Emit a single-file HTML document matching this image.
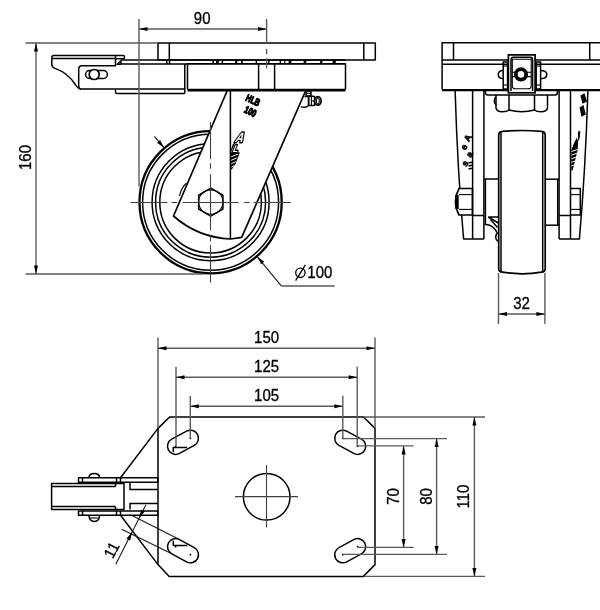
<!DOCTYPE html>
<html><head><meta charset="utf-8"><style>
html,body{margin:0;padding:0;background:#fff;}
svg{display:block;}
svg{filter:grayscale(1);}
text{font-family:"Liberation Sans",sans-serif;fill:#000;stroke:#000;stroke-width:0.3;}
.o{fill:none;stroke:#000;stroke-width:1.5;stroke-linejoin:round;}
.ow{fill:#fff;stroke:#000;stroke-width:1.7;}
.fw{fill:#fff;stroke:#000;stroke-width:1.7;stroke-linejoin:round;}
.t{fill:none;stroke:#000;stroke-width:2.3;}
.tt{fill:none;stroke:#000;stroke-width:2.8;}
.n{fill:none;stroke:#000;stroke-width:1.1;}
.d{fill:none;stroke:#5a5a5a;stroke-width:1.4;}
.c{fill:none;stroke:#404040;stroke-width:1.1;}
.dk{fill:none;stroke:#1a1a1a;stroke-width:1.1;}
.ar{fill:#000;stroke:none;}
.sym{fill:none;stroke:#000;stroke-width:1.3;}
.lg{fill:#fff;stroke:#000;stroke-width:1.6;stroke-linejoin:round;}
.lgw{fill:none;stroke:#fff;stroke-width:0.9;}
.lg2{fill:none;stroke:#000;stroke-width:3.2;stroke-linejoin:round;}
.fb{fill:#000;stroke:none;}
.w{fill:none;stroke:#fff;stroke-width:1;}
.w2{fill:none;stroke:#fff;stroke-width:1.3;stroke-linejoin:round;}
</style></head><body>
<svg width="600" height="610" viewBox="0 0 600 610">
<circle class="t" cx="210.6" cy="202.2" r="71.1"/>
<circle class="o" cx="210.6" cy="202.2" r="68"/>
<circle class="o" cx="210.6" cy="202.2" r="58.5"/>
<circle class="o" cx="210.6" cy="202.2" r="55"/>
<circle class="o" cx="210.6" cy="202.2" r="50.8"/>
<path class="fw" d="M227.5,90 L173.5,216 A92.02,92.02 0 0 0 230.5,239 L241.7,237.3 L306,90 Z"/>
<line class="o" x1="230.4" y1="90" x2="230.4" y2="239"/>
<path class="n" d="M186.5,183 Q181,188 179.5,196"/>
<polygon class="o" points="210.8,188.1 222.92,195.1 222.92,209.1 210.8,216.1 198.68,209.1 198.68,195.1"/>
<circle class="n" cx="210.8" cy="202.1" r="12.2"/>
<line class="o" x1="121" y1="59.9" x2="345.5" y2="59.9"/>
<line class="o" x1="121" y1="64" x2="187.5" y2="64"/>
<line class="o" x1="187.5" y1="63.7" x2="345.5" y2="63.7"/>
<line class="o" x1="121" y1="60.1" x2="121" y2="64"/>
<rect class="o" x="158" y="43" width="217.3" height="16.9"/>
<line class="o" x1="169.3" y1="43" x2="169.3" y2="60.1"/>
<line class="o" x1="363.8" y1="43" x2="363.8" y2="60.1"/>
<line class="o" x1="166.8" y1="60.1" x2="166.8" y2="64"/>
<line class="o" x1="169.5" y1="60.1" x2="169.5" y2="64"/>
<line class="o" x1="213.2" y1="60.1" x2="213.2" y2="63.5"/>
<line class="o" x1="216.8" y1="60.1" x2="216.8" y2="63.5"/>
<polygon class="fb" points="217.5,60 219.2,60 218.5,63.6 216.8,63.6"/>
<polygon class="fb" points="222.0,60 223.5,60 222.8,63.6 221.3,63.6"/>
<polygon class="fb" points="235.5,60 237.7,60 237.0,63.6 234.8,63.6"/>
<polygon class="fb" points="241.5,60 243.2,60 242.5,63.6 240.8,63.6"/>
<polygon class="fb" points="256.0,60 257.5,60 256.8,63.6 255.3,63.6"/>
<polygon class="fb" points="268.5,60 269.9,60 269.2,63.6 267.8,63.6"/>
<polygon class="fb" points="280.0,60 281.4,60 280.7,63.6 279.3,63.6"/>
<polygon class="fb" points="284.5,60 285.7,60 285.0,63.6 283.8,63.6"/>
<polygon class="fb" points="289.0,60 291.7,60 291.0,63.6 288.3,63.6"/>
<polygon class="fb" points="304.0,60 306.7,60 306.0,63.6 303.3,63.6"/>
<polygon class="fb" points="320.5,60 322.7,60 322.0,63.6 319.8,63.6"/>
<polygon class="fb" points="333.0,60 336.2,60 335.5,63.6 332.3,63.6"/>
<path class="o" d="M187.5,89.6 L187.5,63.7 L345.5,63.7 L345.5,89.6"/>
<line class="tt" x1="187.5" y1="90.2" x2="345.5" y2="90.2"/>
<line class="o" x1="258.6" y1="63.5" x2="258.6" y2="89.6"/>
<line class="o" x1="274.6" y1="63.5" x2="274.6" y2="89.6"/>
<line class="o" x1="184.8" y1="64" x2="184.8" y2="93.6"/>
<path class="o" d="M115.5,89.2 L115.5,92 Q115.5,93.6 117.5,93.6 L184.8,93.6"/>
<path class="o" d="M123,55.6 L53.5,55.6 Q51.8,55.6 51.8,57.5 L51.8,64.5 Q51.8,67.3 55,68.4 C 64,71.6 71,77.5 75.6,85 Q77.4,88.3 80.5,89.1 L184.8,89.1"/>
<line class="o" x1="51.8" y1="58.4" x2="115.5" y2="58.4"/>
<path class="o" d="M115.5,55.6 L115.5,65.7 L82,65.7 Q78.7,65.7 78.7,69 L78.7,86 Q78.7,88.6 80.5,89.1"/>
<path class="o" d="M115.5,58.7 L123,58.7 Q124.6,58.7 124.6,57.2 Q124.6,55.6 123,55.6"/>
<path class="o" d="M120.6,61 L117.3,64.2 L121,64.2"/>
<path class="o" d="M89.6,78.5 L103.4,78.5 A4,4 0 0 0 103.4,70.5 L89.6,70.5 A4,4 0 0 0 89.6,78.5 Z"/>
<circle class="ow" cx="94.2" cy="74.5" r="5"/>
<rect class="o" x="306.2" y="91" width="4.8" height="5"/>
<line class="n" x1="306.2" y1="93.3" x2="311" y2="93.3"/>
<path class="o" d="M304.5,96.5 L308.6,96.2 L308.6,105.4 Q306,108.2 300.8,106.6"/>
<ellipse class="ow" cx="317.8" cy="100.9" rx="3.3" ry="4.3"/>
<rect class="o" x="308.6" y="96.2" width="6" height="9.4" rx="0.8"/>
<line class="n" x1="311.4" y1="96.8" x2="311.4" y2="105"/>
<path class="n" d="M311.4,100.9 L314.6,100.9"/>
<ellipse class="n" cx="317.9" cy="100.9" rx="1.4" ry="3.2"/>
<g style="stroke:#000;stroke-width:1.2;stroke-linejoin:round" font-weight="bold" font-size="10" text-anchor="middle"><text style="stroke-width:1.2;stroke-linejoin:round" transform="translate(251.6,103.4) rotate(25) scale(0.7 1)">HLB</text><text style="stroke-width:1.2;stroke-linejoin:round" transform="translate(249,114.6) rotate(25) scale(0.72 1)">100</text></g>
<polygon class="fb" points="236.8,139 232.4,145 230.6,151 230.6,153 233.2,147.5"/>
<text style="fill:#fff;stroke:#000;stroke-width:3;paint-order:stroke;stroke-linejoin:round" font-weight="bold" font-size="13.5" transform="translate(234.4,142.3) skewX(-24) scale(0.8 1)">A</text>
<text style="fill:#fff;stroke:#000;stroke-width:3;paint-order:stroke;stroke-linejoin:round" font-weight="bold" font-size="10" transform="translate(232.2,151.6) skewX(-22) scale(0.8 1)">L</text>
<polygon class="fb" points="230.6,152.6 239.8,152.2 238.9,155 235.6,163.7 232.4,168.5 230.6,170"/>
<line class="w" x1="231.2" y1="156.8" x2="238" y2="154.2"/>
<line class="w" x1="231.2" y1="160.3" x2="236.9" y2="157.8"/>
<line class="w" x1="231.2" y1="163.8" x2="235.7" y2="161.6"/>
<line class="w" x1="231.4" y1="167.2" x2="234.2" y2="165.6"/>
<line class="c" x1="130.4" y1="202.5" x2="167.6" y2="202.5"/>
<line class="c" x1="171.6" y1="202.5" x2="177.1" y2="202.5"/>
<line class="c" x1="182.6" y1="202.5" x2="238.6" y2="202.5"/>
<line class="c" x1="244.1" y1="202.5" x2="249.6" y2="202.5"/>
<line class="c" x1="253.6" y1="202.5" x2="291" y2="202.5"/>
<line class="c" x1="210.5" y1="122" x2="210.5" y2="159.2"/>
<line class="c" x1="210.5" y1="163.2" x2="210.5" y2="168.7"/>
<line class="c" x1="210.5" y1="174.2" x2="210.5" y2="230.2"/>
<line class="c" x1="210.5" y1="235.7" x2="210.5" y2="241.2"/>
<line class="c" x1="210.5" y1="245.2" x2="210.5" y2="282.6"/>
<line class="d" x1="266.6" y1="18.9" x2="266.6" y2="43.5"/>
<line class="d" x1="266.6" y1="48.9" x2="266.6" y2="54.3"/>
<line class="d" x1="266.6" y1="58.3" x2="266.6" y2="68.6"/>
<line class="d" x1="25.5" y1="43" x2="158" y2="43"/>
<line class="d" x1="25.5" y1="274" x2="203" y2="274"/>
<line class="d" x1="36" y1="43" x2="36" y2="274"/>
<polygon class="ar" points="36,43 38,51.5 34,51.5"/>
<polygon class="ar" points="36,274 34,265.5 38,265.5"/>
<text transform="translate(31.4 157.5) rotate(-90) scale(1.0 1.05)" font-size="15" text-anchor="middle">160</text>
<line class="d" x1="139" y1="19" x2="139" y2="186.5"/>
<line class="d" x1="139" y1="29.05" x2="266.6" y2="29.05"/>
<polygon class="ar" points="139,29.05 147.5,27.05 147.5,31.05"/>
<polygon class="ar" points="266.6,29.05 258.1,31.05 258.1,27.05"/>
<text transform="translate(202.2 24.2) scale(1.0 1.05)" font-size="15" text-anchor="middle">90</text>
<line class="dk" x1="257.14" y1="256.61" x2="281.5" y2="286.2"/>
<line class="d" x1="281.5" y1="286" x2="334.7" y2="286"/>
<polygon class="ar" points="257.14,256.61 264.18,261.77 261.15,264.37"/>
<line class="dk" x1="154.31" y1="136.39" x2="164.06" y2="147.79"/>
<polygon class="ar" points="164.06,147.79 157.02,142.63 160.05,140.03"/>
<circle class="sym" cx="300.4" cy="272.8" r="4.7"/>
<line class="sym" x1="295.6" y1="280.6" x2="305.4" y2="264.9"/>
<text transform="translate(307.3 277.8) scale(1.0 1.05)" font-size="15" text-anchor="start">100</text>
<rect class="o" x="442.1" y="42.7" width="160.9" height="17.2"/>
<line class="o" x1="453.5" y1="42.7" x2="453.5" y2="59.9"/>
<line class="o" x1="589.7" y1="42.7" x2="589.7" y2="59.9"/>
<line class="o" x1="442.1" y1="64.2" x2="603" y2="64.2"/>
<line class="o" x1="442.1" y1="59.9" x2="442.1" y2="89.6"/>
<line class="t" x1="442.1" y1="90.1" x2="603" y2="90.1"/>
<path class="o" d="M455.1,90 Q457.5,170 463.6,238.9 L483.9,238.9"/>
<line class="o" x1="472.6" y1="90" x2="472.6" y2="238.9"/>
<line class="o" x1="483.9" y1="90" x2="483.9" y2="238.9"/>
<path class="o" d="M587.9,90 Q585.5,170 579.4,238.9 L559.1,238.9"/>
<line class="o" x1="570.5" y1="90" x2="570.5" y2="238.9"/>
<line class="o" x1="559.1" y1="90" x2="559.1" y2="238.9"/>
<line class="o" x1="472.6" y1="215.5" x2="483.9" y2="215.5"/>
<line class="o" x1="559.1" y1="215.5" x2="570.5" y2="215.5"/>
<path class="o" d="M483.9,179 L498.6,179"/>
<path class="o" d="M559.1,179.2 L544.5,179.2"/>
<path class="o" d="M559.1,225.2 L544.5,225.2"/>
<path class="ow" d="M498.7,135.5 Q498.7,131.6 502.5,131.4 Q522,129.6 541.5,131.4 Q545.2,131.6 545.2,135.5 L545.2,268.5 Q545.2,272 541.5,272.2 Q522,275.4 502.5,272.2 Q498.7,272 498.7,268.5 Z"/>
<line class="o" x1="501" y1="132.2" x2="501" y2="271.8"/>
<line class="o" x1="542.7" y1="132.2" x2="542.7" y2="271.8"/>
<line class="o" x1="485.4" y1="179" x2="485.4" y2="224.3"/>
<line class="o" x1="557.7" y1="179.2" x2="557.7" y2="225.2"/>
<path class="o" d="M485.5,90.5 L485.5,93 Q485.5,95 488,95 L555,95 Q557.4,95 557.4,92.5 L557.4,90.5"/>
<path class="o" d="M496,95 L496,108 Q497,111.8 502,111.8 Q507,111.8 509,110 Q521.7,113.6 534.5,110 Q536.5,111.8 541,111.8 Q546.5,111.8 547.5,108 L547.5,95"/>
<line class="o" x1="509" y1="95" x2="509" y2="110"/>
<line class="o" x1="534.5" y1="95" x2="534.5" y2="110"/>
<path class="o" d="M496,96.8 Q492.6,100.8 496,105"/>
<rect class="ow" x="508.4" y="54.9" width="26.7" height="37.9"/>
<path class="o" d="M511,91 L511,60 Q511,57.3 513.5,57.3 L530,57.3 Q532.6,57.3 532.6,60 L532.6,91"/>
<path class="n" d="M512.3,59.3 L531.2,59.3 L531.2,86 Q531.2,88.8 528,88.8 L515.5,88.8 Q512.3,88.8 512.3,86 Z"/>
<circle class="o" cx="521" cy="74.4" r="6.3"/>
<circle cx="521" cy="74.4" r="4.6" fill="none" stroke="#000" stroke-width="2.6"/>
<path class="n" d="M512.3,72.3 L515,72.3 M512.3,76.6 L515,76.6 M527,72.3 L531.2,72.3 M527,76.6 L531.2,76.6"/>
<rect class="o" x="503.2" y="61.9" width="4.4" height="27.1"/>
<rect class="o" x="536.2" y="61.9" width="4.4" height="27.1"/>
<line class="n" x1="503.2" y1="66" x2="507.6" y2="66"/>
<line class="n" x1="503.2" y1="85" x2="507.6" y2="85"/>
<line class="n" x1="536.2" y1="66" x2="540.6" y2="66"/>
<line class="n" x1="536.2" y1="85" x2="540.6" y2="85"/>
<path class="o" d="M503.2,70.6 Q498.3,70.6 498.3,74.6 Q498.3,78.7 503.2,78.7"/>
<path class="o" d="M540.6,70.6 Q546.8,70.6 546.8,74.6 Q546.8,78.7 540.6,78.7"/>
<path class="ow" d="M459,188.5 L472.4,188.5 L472.4,215 L459,215 Q455.5,208 455.5,201.7 Q455.5,195 459,188.5 Z"/>
<line class="n" x1="459" y1="194.6" x2="472.4" y2="194.6"/>
<line class="n" x1="459" y1="209.4" x2="472.4" y2="209.4"/>
<rect class="fb" x="455.3" y="195" width="3.4" height="14"/>
<path class="o" d="M570.5,188.5 L580.3,188.5 L580.3,215 L570.5,215"/>
<line class="n" x1="570.5" y1="194.6" x2="580.3" y2="194.6"/>
<line class="n" x1="570.5" y1="209.4" x2="580.3" y2="209.4"/>
<path class="o" d="M488.2,217 L498.4,217 M488.2,217 L498.4,223 M490.5,219.5 L497.5,227.5"/>
<path class="o" d="M484.6,224.3 Q494,224.5 497.8,234 M497.8,232.5 Q493.4,237.5 498,241.5"/>
<g font-weight="bold" font-size="9" text-anchor="middle" style="stroke:#000;stroke-width:0.6"><text style="stroke-width:0.6" transform="translate(470.6,139.5) rotate(-62)">A</text><text style="stroke-width:0.6" transform="translate(466.6,148.6) rotate(-62)">e</text><text style="stroke-width:0.6" transform="translate(472.2,155.8) rotate(-62)">a</text><text style="stroke-width:0.6" transform="translate(467.6,164.8) rotate(-62)">s</text></g>
<line class="o" x1="468.5" y1="163" x2="472" y2="162.2"/>
<line class="o" x1="468.5" y1="166" x2="472" y2="165.2"/>
<line class="o" x1="468.5" y1="169" x2="472" y2="168.2"/>
<polygon class="fb" points="580.5,95.5 584.5,93.2 587,101.5 582.5,103.8"/>
<polygon class="fb" points="579.5,107.5 583.5,105 585.8,114.5 581.5,116.8"/>
<polygon class="fb" points="578.6,130.8 580.3,131.4 579.6,138.5 578.2,141 577.6,150 575,161 572.6,170.5 571.3,170.5 571.3,150 574.2,142.5 576.6,138.2"/>
<line class="w" x1="571.5" y1="151.5" x2="577.5" y2="149.5"/>
<line class="w" x1="571.5" y1="155.1" x2="577.5" y2="153.1"/>
<line class="w" x1="571.5" y1="158.7" x2="577.5" y2="156.7"/>
<line class="w" x1="571.5" y1="162.3" x2="577.5" y2="160.3"/>
<line class="w" x1="571.5" y1="165.9" x2="577.5" y2="163.9"/>
<line class="w" x1="577.4" y1="134" x2="577.6" y2="139.6"/>
<line class="d" x1="498.5" y1="273" x2="498.5" y2="324"/>
<line class="d" x1="544.9" y1="273" x2="544.9" y2="324"/>
<line class="d" x1="498.5" y1="314" x2="544.9" y2="314"/>
<polygon class="ar" points="498.5,314 507,312 507,316"/>
<polygon class="ar" points="544.9,314 536.4,316 536.4,312"/>
<text transform="translate(521.6 308.8) scale(1.0 1.05)" font-size="15" text-anchor="middle">32</text>
<polygon class="o" points="169.6,417 363.6,417 375,428.4 375,564.6 363.4,576.4 169.2,576.4 158,564.6 158,428.4"/>
<circle class="o" cx="266.7" cy="496.7" r="23.3"/>
<line class="c" x1="235" y1="496.6" x2="298" y2="496.6"/>
<line class="c" x1="266.5" y1="465" x2="266.5" y2="527.5"/>
<path class="o" d="M186.55,431.17 L171.75,439.17 A8.1,8.1 0 0 0 179.45,453.43 L194.25,445.43 A8.1,8.1 0 0 0 186.55,431.17 Z"/>
<circle class="fb" cx="190.4" cy="438.3" r="0.9"/>
<circle class="fb" cx="175.6" cy="446.3" r="0.9"/>
<path class="o" d="M194.25,547.57 L179.45,539.57 A8.1,8.1 0 0 0 171.75,553.83 L186.55,561.83 A8.1,8.1 0 0 0 194.25,547.57 Z"/>
<circle class="fb" cx="190.4" cy="554.7" r="0.9"/>
<circle class="fb" cx="175.6" cy="546.7" r="0.9"/>
<path class="o" d="M338.95,445.43 L353.75,453.43 A8.1,8.1 0 0 0 361.45,439.17 L346.65,431.17 A8.1,8.1 0 0 0 338.95,445.43 Z"/>
<circle class="fb" cx="342.8" cy="438.3" r="0.9"/>
<circle class="fb" cx="357.6" cy="446.3" r="0.9"/>
<path class="o" d="M346.65,561.83 L361.45,553.83 A8.1,8.1 0 0 0 353.75,539.57 L338.95,547.57 A8.1,8.1 0 0 0 346.65,561.83 Z"/>
<circle class="fb" cx="342.8" cy="554.7" r="0.9"/>
<circle class="fb" cx="357.6" cy="546.7" r="0.9"/>
<path class="o" d="M173.3,452.3 L173.3,447.6 L187.2,447.6"/>
<path class="o" d="M173.3,540.7 L173.3,545.4 L187.2,545.4"/>
<line class="d" x1="158" y1="337.5" x2="158" y2="428"/>
<line class="d" x1="375" y1="337.5" x2="375" y2="428"/>
<line class="d" x1="158" y1="348.2" x2="375" y2="348.2"/>
<polygon class="ar" points="158,348.2 166.5,346.2 166.5,350.2"/>
<polygon class="ar" points="375,348.2 366.5,350.2 366.5,346.2"/>
<text transform="translate(266.6 343.4) scale(1.0 1.05)" font-size="15" text-anchor="middle">150</text>
<line class="d" x1="176" y1="366.7" x2="176" y2="446.3"/>
<line class="d" x1="357.2" y1="366.7" x2="357.2" y2="446.3"/>
<line class="d" x1="176" y1="377.3" x2="357.2" y2="377.3"/>
<polygon class="ar" points="176,377.3 184.5,375.3 184.5,379.3"/>
<polygon class="ar" points="357.2,377.3 348.7,379.3 348.7,375.3"/>
<text transform="translate(266.6 372.3) scale(1.0 1.05)" font-size="15" text-anchor="middle">125</text>
<line class="d" x1="190.3" y1="395.8" x2="190.3" y2="438.3"/>
<line class="d" x1="342.8" y1="395.8" x2="342.8" y2="438.3"/>
<line class="d" x1="190.3" y1="406.2" x2="342.8" y2="406.2"/>
<polygon class="ar" points="190.3,406.2 198.8,404.2 198.8,408.2"/>
<polygon class="ar" points="342.8,406.2 334.3,408.2 334.3,404.2"/>
<text transform="translate(266.6 401.3) scale(1.0 1.05)" font-size="15" text-anchor="middle">105</text>
<line class="d" x1="357.6" y1="445.9" x2="413.6" y2="445.9"/>
<line class="d" x1="357.6" y1="547.4" x2="413.6" y2="547.4"/>
<line class="d" x1="403.6" y1="445.9" x2="403.6" y2="547.4"/>
<polygon class="ar" points="403.6,445.9 405.6,454.4 401.6,454.4"/>
<polygon class="ar" points="403.6,547.4 401.6,538.9 405.6,538.9"/>
<text transform="translate(398.6 496.5) rotate(-90) scale(1.0 1.05)" font-size="15" text-anchor="middle">70</text>
<line class="d" x1="342.8" y1="438.6" x2="447" y2="438.6"/>
<line class="d" x1="342.8" y1="554.4" x2="447" y2="554.4"/>
<line class="d" x1="436.6" y1="438.6" x2="436.6" y2="554.4"/>
<polygon class="ar" points="436.6,438.6 438.6,447.1 434.6,447.1"/>
<polygon class="ar" points="436.6,554.4 434.6,545.9 438.6,545.9"/>
<text transform="translate(431.6 496.5) rotate(-90) scale(1.0 1.05)" font-size="15" text-anchor="middle">80</text>
<line class="d" x1="364" y1="417" x2="485" y2="417"/>
<line class="d" x1="364" y1="576.4" x2="485" y2="576.4"/>
<line class="d" x1="474.4" y1="417" x2="474.4" y2="576.4"/>
<polygon class="ar" points="474.4,417 476.4,425.5 472.4,425.5"/>
<polygon class="ar" points="474.4,576.4 472.4,567.9 476.4,567.9"/>
<text transform="translate(469.2 496.5) rotate(-90) scale(1.0 1.05)" font-size="15" text-anchor="middle">110</text>
<line class="o" x1="158" y1="428.4" x2="120.5" y2="477.8"/>
<line class="o" x1="158" y1="564.6" x2="120.5" y2="515.3"/>
<rect class="o" x="78.5" y="477.8" width="79.3" height="4.4"/>
<rect class="o" x="78.5" y="511" width="79.3" height="4.3"/>
<line class="o" x1="82.5" y1="477.8" x2="82.5" y2="482.2"/>
<line class="o" x1="116.5" y1="477.8" x2="116.5" y2="482.2"/>
<line class="o" x1="120.5" y1="477.8" x2="120.5" y2="482.2"/>
<line class="o" x1="82.5" y1="511" x2="82.5" y2="515.3"/>
<line class="o" x1="116.5" y1="511" x2="116.5" y2="515.3"/>
<line class="o" x1="120.5" y1="511" x2="120.5" y2="515.3"/>
<rect class="o" x="51.6" y="483.5" width="72.4" height="26.1"/>
<line class="o" x1="51.6" y1="486.6" x2="115.5" y2="486.6"/>
<line class="o" x1="51.6" y1="506.6" x2="115.5" y2="506.6"/>
<line class="o" x1="115.5" y1="486.6" x2="115.5" y2="482.2"/>
<line class="o" x1="115.5" y1="506.6" x2="115.5" y2="509.6"/>
<path class="o" d="M130,482.2 L130,489.6 L157.8,489.6"/>
<path class="o" d="M130,509.6 L130,503.5 L157.8,503.5"/>
<path class="o" d="M89,477.8 Q89,473.5 94.3,473.5 Q99.6,473.5 99.6,477.8"/>
<path class="o" d="M89,515.3 Q89,521.5 94.3,521.5 Q99.6,521.5 99.6,515.3"/>
<line class="n" x1="90" y1="518" x2="98.6" y2="518"/>
<line class="dk" x1="132" y1="515.5" x2="179.45" y2="539.57"/>
<line class="dk" x1="121.7" y1="529.2" x2="171.75" y2="553.83"/>
<line class="dk" x1="115.8" y1="564.2" x2="145.8" y2="505"/>
<polygon class="ar" points="139.1,518.2 141.16,509.71 144.73,511.52"/>
<polygon class="ar" points="132.2,531.9 130.14,540.39 126.57,538.58"/>
<text transform="translate(116.4 552.6) rotate(-63) scale(1.0 1.05)" font-size="15" text-anchor="middle">11</text>
</svg></body></html>
